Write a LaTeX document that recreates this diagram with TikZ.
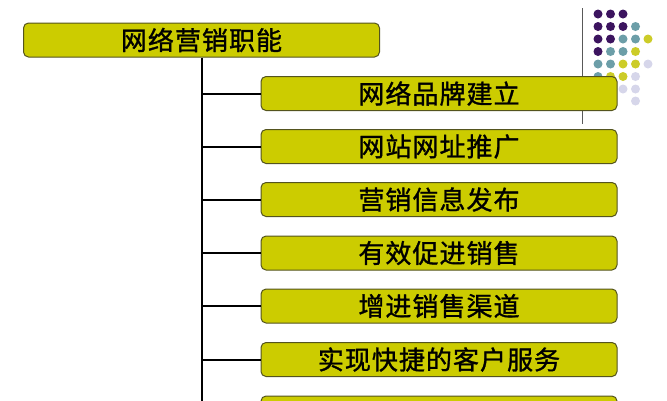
\documentclass[tikz,border=0pt]{standalone}
\usepackage{fontspec}
\newfontfamily\cjk[LetterSpace=4,FakeBold=1.2]{Noto Sans CJK SC}
\usetikzlibrary{positioning}
\definecolor{boxfill}{RGB}{204,204,0}
\definecolor{boxline}{RGB}{84,84,30}
\definecolor{dpurple}{RGB}{60,20,95}
\definecolor{dteal}{RGB}{108,158,168}
\definecolor{dyellow}{RGB}{204,204,40}
\definecolor{dlav}{RGB}{214,214,234}

\begin{document}
\begin{tikzpicture}[x=1pt,y=-1pt,
  head/.style={rectangle,rounded corners=5pt,draw=boxline,fill=boxfill,line width=1pt,
               font=\cjk\fontsize{26}{26}\selectfont,minimum width=356pt,minimum height=34pt,inner sep=0pt},
  item/.style={head},
  link/.style={black,line width=2pt},
  dot/.style={circle,inner sep=0pt,minimum size=9pt}]

  \useasboundingbox (0,0) rectangle (667,400);

  \draw[gray!70!black,line width=0.7pt] (582,8) -- (582,124);
  \foreach \px/\py/\c in {598/14/dpurple,610.5/14/dpurple,623/14/dpurple,
      598/26.5/dpurple,610.5/26.5/dpurple,623/26.5/dpurple,635.5/26.5/dteal,
      598/39/dpurple,610.5/39/dpurple,623/39/dteal,635.5/39/dteal,648/39/dyellow,
      598/51.5/dpurple,610.5/51.5/dteal,623/51.5/dteal,635.5/51.5/dyellow,
      598/64/dteal,610.5/64/dteal,623/64/dyellow,635.5/64/dyellow,648/64/dlav,
      598/76.5/dteal,610.5/76.5/dyellow,623/76.5/dyellow,635.5/76.5/dlav,
      623/89/dlav,635.5/89/dlav,635.5/101/dlav}
    \node[dot,fill=\c] at (\px,\py) {};

  \node[head] (Ntop) at (201.5,40) {网络营销职能};

  \node[item] (Nbrand)   at (439,93.5)  {网络品牌建立};
  \node[item] (Nsite)    at (439,146.5) {网站网址推广};
  \node[item] (Ninfo)    at (439,199.5) {营销信息发布};
  \node[item] (Nsales)   at (439,253)   {有效促进销售};
  \node[item] (Nchannel) at (439,306)   {增进销售渠道};
  \node[item] (Nservice) at (439,359.5) {实现快捷的客户服务};
  \node[item] (Nnext)    at (439,413)   {};

  \coordinate (Jtop) at (Ntop.south);
  \draw[link] (Jtop) -- (Jtop |- Nnext.west);
  \draw[link] (Jtop |- Nbrand.west) -- (Nbrand.west);
  \draw[link] (Jtop |- Nsite.west) -- (Nsite.west);
  \draw[link] (Jtop |- Ninfo.west) -- (Ninfo.west);
  \draw[link] (Jtop |- Nsales.west) -- (Nsales.west);
  \draw[link] (Jtop |- Nchannel.west) -- (Nchannel.west);
  \draw[link] (Jtop |- Nservice.west) -- (Nservice.west);
  \draw[link] (Jtop |- Nnext.west) -- (Nnext.west);
\end{tikzpicture}
\end{document}
